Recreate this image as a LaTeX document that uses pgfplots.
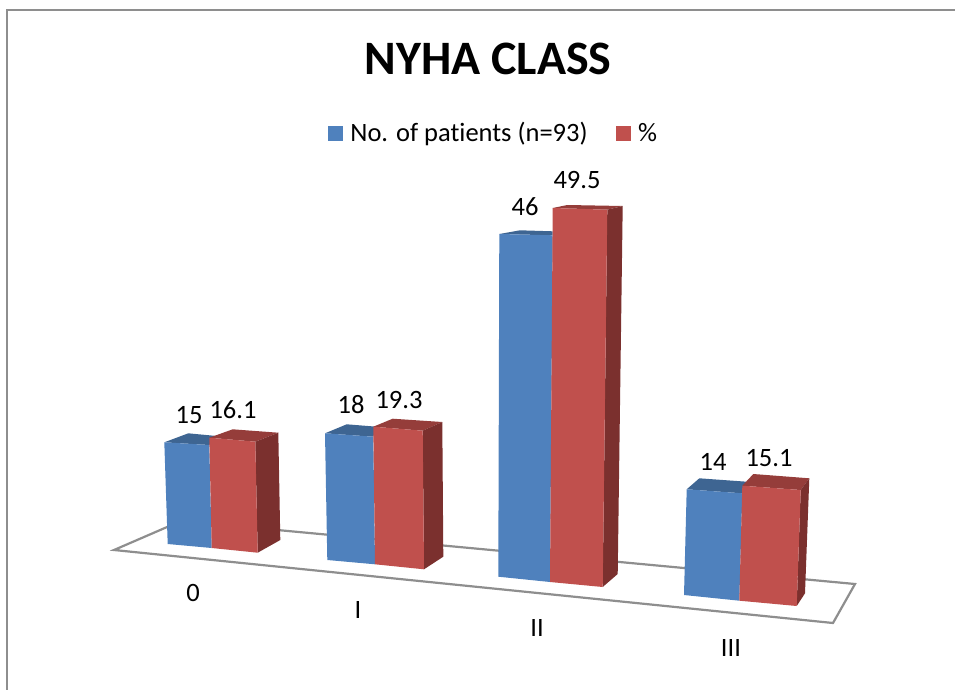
\documentclass[border=0pt]{standalone}
\usepackage{fontspec}
\setmainfont{Carlito}[Ligatures=NoCommon]
\usepackage{pgfplots}
\pgfplotsset{compat=1.18}

\definecolor{blueF}{HTML}{4F81BD}
\definecolor{blueT}{HTML}{3E6592}
\definecolor{redF}{HTML}{C0504D}
\definecolor{redT}{HTML}{953D3A}
\definecolor{redS}{HTML}{7B302E}
\definecolor{frameC}{HTML}{8E8E8E}

% one face of a 3-D bar, corners in pixels
\newcommand{\face}[2]{\addplot[fill=#1,draw=none,forget plot] coordinates {#2} -- cycle;}

\begin{document}
\begin{tikzpicture}
\begin{axis}[
  scale only axis,
  width=955pt, height=690pt,
  xmin=0, xmax=955, ymin=0, ymax=690,
  y dir=reverse,
  axis lines=none,
  title={NYHA CLASS},
  title style={at={(axis cs:488,65)}, anchor=center, font=\fontsize{48}{52}\selectfont\bfseries},
  legend columns=2,
  legend style={at={(axis cs:493.5,133)}, anchor=center, draw=none, fill=none,
    font=\fontsize{26.5}{30}\selectfont, inner sep=0pt,
    /tikz/every odd column/.append style={column sep=6pt},
    /tikz/every even column/.append style={column sep=26pt}},
  legend image code/.code={\fill[#1] (0pt,-7pt) rectangle (14pt,7pt);},
]
% keep the page as large as the whole axis box
\path[use as bounding box] (rel axis cs:0,0) rectangle (rel axis cs:1,1);
% frame of the chart area
\addplot[frameC, line width=2pt, forget plot] coordinates {(7,690) (7,10) (955,10)};
% floor
\addplot[frameC, line width=2.2pt, forget plot] coordinates {(114,550) (181,521) (855,584) (833,623)} -- cycle;

% class 0
\face{blueT}{(164.3,442.3) (188.3,433.3) (216.7,436) (209.3,445)}
\face{blueF}{(164.3,442.3) (209.3,445) (211.7,548) (167.7,544)}
\face{redT}{(209.3,437.7) (232.7,429.3) (278.3,432.7) (255.3,441.7)}
\face{redS}{(255.3,441.7) (278.3,432.7) (280.3,540) (257.7,552.7)}
\face{redF}{(209.3,437.7) (255.3,441.7) (257.7,552.7) (211.7,548)}
% class I
\face{blueT}{(325,433.3) (346.7,424.3) (376.7,426.7) (373.3,436.7)}
\face{blueF}{(325,433.3) (373.3,436.7) (375,564.3) (327.3,560)}
\face{redT}{(373.3,426.7) (392.7,418.7) (442.3,422) (422.7,430.7)}
\face{redS}{(422.7,430.7) (442.3,422) (443.3,556.7) (424,569.3)}
\face{redF}{(373.3,426.7) (422.7,430.7) (424,569.3) (375,564.3)}
% class II
\face{blueT}{(499.3,234) (520,230.3) (552.7,231.3) (552.7,235.3)}
\face{blueF}{(499.3,234) (552.7,235.3) (550,582) (498.3,576.7)}
\face{redT}{(552.7,208) (567.3,205) (622.7,206) (607.3,209.7)}
\face{redS}{(607.3,209.7) (622.7,206) (617.7,574) (602.7,587)}
\face{redF}{(552.7,208) (607.3,209.7) (602.7,587) (550,582)}
% class III
\face{blueT}{(686.7,489.3) (699.3,478.3) (746.7,481.7) (742.3,493.3)}
\face{blueF}{(686.7,489.3) (742.3,493.3) (739.3,600.7) (684,595)}
\face{redT}{(742.3,485.7) (753.3,474) (809.3,478.3) (800.7,490)}
\face{redS}{(800.7,490) (809.3,478.3) (805,593.3) (796.7,606)}
\face{redF}{(742.3,485.7) (800.7,490) (796.7,606) (739.3,600.7)}

% value and category labels
\addplot[draw=none, forget plot, point meta=explicit symbolic, nodes near coords,
  every node near coord/.append style={anchor=center, inner sep=0pt, font=\fontsize{26.5}{30}\selectfont}]
  table[meta=v] {
  x y v
  189 415 15
  233 410 16.1
  351 405 18
  399 400 19.3
  525 207 46
  577 180 49.5
  713 462 14
  769 458 15.1
  193 593 0
  358 610 I
  537 628 II
  731 648 III
};

\addlegendimage{blueF}
\addlegendentry{No. of patients (n=93)}
\addlegendimage{redF}
\addlegendentry{\%}
\end{axis}
\end{tikzpicture}
\end{document}
